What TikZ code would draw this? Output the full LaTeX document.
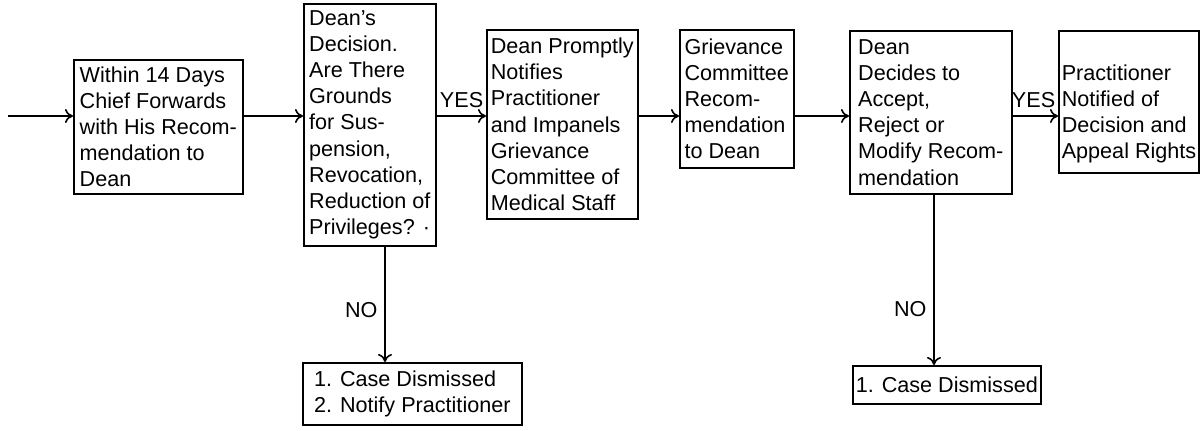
\documentclass[tikz,border=0pt]{standalone}
\usepackage{fontspec}
\setmainfont{Liberation Sans}
\usetikzlibrary{arrows.meta}

\begin{document}
\begin{tikzpicture}[x=0.5pt,y=-0.5pt,line width=0.8pt,
    font=\fontsize{10.8}{13.1}\selectfont,
    >={To[length=4pt,width=7pt]},
    box/.style={shape=rectangle,draw=black,anchor=north west,align=left,inner sep=1.5pt},
    yes/.style={above left,pos=1,inner xsep=1pt,inner ysep=3.5pt}]
    \useasboundingbox (0,0) rectangle (1200,430);
    \node[box,minimum width=84.5pt,minimum height=67pt] (A) at (73,59) {Within 14 Days\\Chief Forwards\\with His Recom-\\mendation to\\Dean};
    \node[box,minimum width=66pt,minimum height=121pt] (B) at (303,3) {Dean’s\\Decision.\\Are There\\Grounds\\for Sus-\\pension,\\Revocation,\\Reduction of\\Privileges? ·};
    \node[box,minimum width=75.5pt,minimum height=94.5pt] (C) at (486,29) {Dean Promptly\\Notifies\\Practitioner\\and Impanels\\Grievance\\Committee of\\Medical Staff};
    \node[box,minimum width=57pt,minimum height=69pt] (D) at (679,29) {Grievance\\Committee\\Recom-\\mendation\\to Dean};
    \node[box,minimum width=81pt,minimum height=81.5pt] (E) at (849,30) {Dean\\Decides to\\Accept,\\Reject or\\Modify Recom-\\mendation};
    \node[box,minimum width=70pt,minimum height=71pt] (F) at (1058,30) {\rule{0pt}{20pt}Practitioner\\Notified of\\Decision and\\Appeal Rights};
    \node[box,minimum width=109.5pt,minimum height=31pt] (G) at (302,362) {1. Case Dismissed\\2. Notify Practitioner};
    \node[box,minimum width=88pt,minimum height=19pt] (H) at (852,365) {1. Case Dismissed};
    \coordinate (start) at (8,116);
    \coordinate (row) at (0,116);
    \coordinate (drop1) at (385,0);
    \coordinate (drop2) at (934,0);
    \path [->](start) edge (A.west|-row);
    \path [->](A.east|-row) edge (B.west|-row);
    \path [->](B.east|-row) edge node[yes]{YES} (C.west|-row);
    \path [->](C.east|-row) edge (D.west|-row);
    \path [->](D.east|-row) edge (E.west|-row);
    \path [->](E.east|-row) edge node[yes]{YES} (F.west|-row);
    \path [->](B.south-|drop1) edge node[left,pos=0.55]{NO} (G.north-|drop1);
    \path [->](E.south-|drop2) edge node[left,pos=0.67]{NO} (H.north-|drop2);
\end{tikzpicture}
\end{document}
